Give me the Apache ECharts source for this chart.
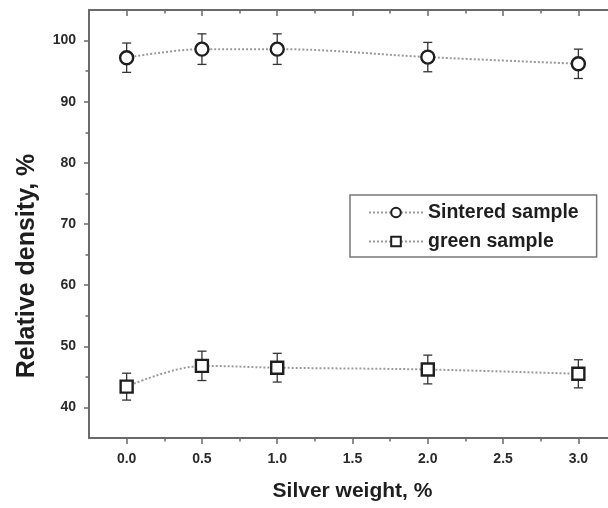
<!DOCTYPE html>
<html>
<head>
<meta charset="utf-8">
<script src="https://cdn.jsdelivr.net/npm/echarts@6/dist/echarts.min.js"></script>
<style>html,body{margin:0;padding:0;background:#fff}#c{width:608px;height:508px}</style>
</head>
<body>
<div id="c"></div>
<script>
const xValues = [0, 0.5, 1.0, 2.0, 3.0];
const sinteredMean = [97.2, 98.6, 98.6, 97.3, 96.2];
const sinteredErr = [2.4, 2.5, 2.5, 2.4, 2.4];
const greenMean = [43.4, 46.8, 46.5, 46.2, 45.5];
const greenErr = [2.2, 2.4, 2.35, 2.35, 2.3];
const xTickLabels = [0, 0.5, 1.0, 1.5, 2.0, 2.5, 3.0];
const xMinorTicks = [0.25, 0.75, 1.25, 1.75, 2.25, 2.75];
const yTickLabels = [40, 50, 60, 70, 80, 90, 100];
const yMinorTicks = [45, 55, 65, 75, 85, 95];
const seriesNames = ['Sintered sample', 'green sample'];
const xTitle = 'Silver weight, %';
const yTitle = 'Relative density, %';

const FONT = '"Liberation Sans", Arial, sans-serif';
const AXC = '#6a6a6a';
const chart = echarts.init(document.getElementById('c'), null, {renderer: 'canvas'});

function axisBase(extra) {
  return Object.assign({
    type: 'value',
    axisLine: {show: true, onZero: false, lineStyle: {color: AXC, width: 2}},
    splitLine: {show: false},
    axisLabel: {show: false},
    axisTick: {show: true, lineStyle: {color: AXC, width: 1.5}}
  }, extra);
}
const XR = {min: -0.25, max: 3.25};
const YR = {min: 35, max: 105};
const noLine = {show: false, onZero: false};

function errData(means, errs) {
  return xValues.map((x, i) => [x, means[i] - errs[i], means[i] + errs[i]]);
}
function errRender(params, api) {
  const x = api.value(0);
  const lo = api.coord([x, api.value(1)]);
  const hi = api.coord([x, api.value(2)]);
  const cap = 4.5;
  const st = {stroke: '#333', lineWidth: 1.3};
  return {type: 'group', children: [
    {type: 'line', shape: {x1: lo[0], y1: lo[1], x2: hi[0], y2: hi[1]}, style: st},
    {type: 'line', shape: {x1: lo[0] - cap, y1: lo[1], x2: lo[0] + cap, y2: lo[1]}, style: st},
    {type: 'line', shape: {x1: hi[0] - cap, y1: hi[1], x2: hi[0] + cap, y2: hi[1]}, style: st}
  ]};
}
function lineSeries(name, means, symbol, size) {
  return {
    type: 'line', name: name, xAxisIndex: 0, yAxisIndex: 0,
    data: xValues.map((x, i) => [x, means[i]]),
    smooth: 0.35,
    symbol: symbol, symbolSize: size, showAllSymbol: true,
    lineStyle: {color: '#9a9a9a', width: 2, type: 'dotted'},
    itemStyle: {color: '#fff', borderColor: '#1e1e1e', borderWidth: 2.4},
    z: 5, silent: true, animation: false
  };
}

chart.setOption({
  animation: false,
  backgroundColor: '#fff',
  grid: {left: 89, top: 10, width: 527, height: 428, containLabel: false, outerBoundsMode: 'none'},
  xAxis: [
    axisBase(Object.assign({position: 'bottom',
      axisTick: {show: true, customValues: xTickLabels, length: 6, inside: false, lineStyle: {color: AXC, width: 1.5}},
      axisLabel: {show: true, customValues: xTickLabels, formatter: v => Number(v).toFixed(1), margin: 14,
        fontFamily: FONT, fontWeight: 'bold', fontSize: 14, color: '#2a2a2a'},
      name: xTitle, nameLocation: 'middle', nameGap: 43,
      nameTextStyle: {fontFamily: FONT, fontWeight: 'bold', fontSize: 21, color: '#1e1e1e'}
    }, XR)),
    axisBase(Object.assign({position: 'bottom', axisLine: noLine,
      axisTick: {show: true, customValues: xMinorTicks, length: 3.5, inside: false, lineStyle: {color: AXC, width: 1.5}}}, XR)),
    axisBase(Object.assign({position: 'top',
      axisTick: {show: true, customValues: xTickLabels, length: 6, inside: true, lineStyle: {color: AXC, width: 1.5}}}, XR)),
    axisBase(Object.assign({position: 'top', axisLine: noLine,
      axisTick: {show: true, customValues: xMinorTicks, length: 3.5, inside: true, lineStyle: {color: AXC, width: 1.5}}}, XR))
  ],
  yAxis: [
    axisBase(Object.assign({position: 'left',
      axisTick: {show: true, customValues: yTickLabels, length: 5, inside: false, lineStyle: {color: AXC, width: 1.5}},
      axisLabel: {show: true, customValues: yTickLabels, margin: 13,
        fontFamily: FONT, fontWeight: 'bold', fontSize: 14, color: '#2a2a2a'}
    }, YR)),
    axisBase(Object.assign({position: 'left', axisLine: noLine,
      axisTick: {show: true, customValues: yMinorTicks, length: 3.5, inside: false, lineStyle: {color: AXC, width: 1.5}}}, YR)),
    axisBase(Object.assign({position: 'right',
      axisTick: {show: true, customValues: yTickLabels, length: 5, inside: true, lineStyle: {color: AXC, width: 1.5}}}, YR)),
    axisBase(Object.assign({position: 'right', axisLine: noLine,
      axisTick: {show: true, customValues: yMinorTicks, length: 3.5, inside: true, lineStyle: {color: AXC, width: 1.5}}}, YR))
  ],
  graphic: [{
    type: 'text', x: 27, y: 266, rotation: Math.PI / 2,
    style: {text: yTitle, fontFamily: FONT, fontWeight: 'bold', fontSize: 25, fill: '#1e1e1e',
      align: 'center', verticalAlign: 'middle'}
  }],
  legend: {
    show: true, data: seriesNames, orient: 'vertical',
    left: 350, top: 195,
    padding: [7, 18, 5, 18], itemGap: 8,
    itemWidth: 54, itemHeight: 12,
    borderColor: '#777', borderWidth: 1.5,
    backgroundColor: '#fff',
    textStyle: {fontFamily: FONT, fontWeight: 'bold', fontSize: 19.5, color: '#1e1e1e', lineHeight: 21},
    selectedMode: false
  },
  series: [
    {type: 'custom', name: 'errS', xAxisIndex: 0, yAxisIndex: 0, renderItem: errRender,
      data: errData(sinteredMean, sinteredErr), encode: {x: 0, y: [1, 2]}, z: 3, silent: true},
    {type: 'custom', name: 'errG', xAxisIndex: 0, yAxisIndex: 0, renderItem: errRender,
      data: errData(greenMean, greenErr), encode: {x: 0, y: [1, 2]}, z: 3, silent: true},
    lineSeries(seriesNames[0], sinteredMean, 'circle', 13),
    lineSeries(seriesNames[1], greenMean, 'rect', 12)
  ]
});
</script>
</body>
</html>
